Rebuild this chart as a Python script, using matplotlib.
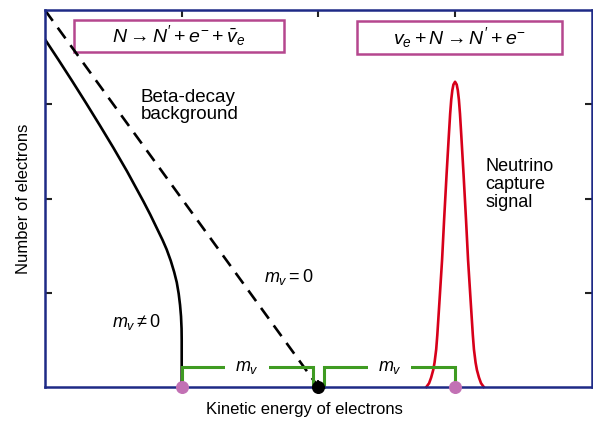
import matplotlib
matplotlib.use("Agg")
import matplotlib.pyplot as plt
from matplotlib.patches import Rectangle

plt.rcParams["font.family"] = "Liberation Sans"
plt.rcParams["mathtext.fontset"] = "custom"
plt.rcParams["mathtext.rm"] = "Liberation Sans"
plt.rcParams["mathtext.it"] = "Liberation Sans:italic"

# beta-decay spectrum, massive neutrino (solid)
solid_x = [0.0, 0.1, 0.2, 0.3, 0.4, 0.5, 0.6, 0.66, 0.72, 0.77, 0.82, 0.86, 0.89,
           0.92, 0.945, 0.964, 0.978, 0.988, 0.995, 0.999, 1.0, 1.0]
solid_y = [3.69, 3.47, 3.245, 3.015, 2.78, 2.54, 2.29, 2.13, 1.97, 1.83, 1.68, 1.56,
           1.46, 1.34, 1.22, 1.11, 0.99, 0.87, 0.75, 0.62, 0.50, 0.0]

# beta-decay spectrum, massless neutrino (dashed)
dash_x = [0.0, 2.0]
dash_y = [4.0, 0.0]

# neutrino capture peak: heights and half-widths
peak_center = 3.0
peak_y = [0.0, 0.04, 0.10, 0.18, 0.26, 0.40, 0.55, 0.89, 1.35, 1.78, 2.26, 2.66,
          2.90, 3.05, 3.15, 3.21, 3.24]
peak_hw = [0.21, 0.19, 0.175, 0.16, 0.15, 0.138, 0.13, 0.115, 0.095, 0.08, 0.062,
           0.046, 0.036, 0.028, 0.020, 0.012, 0.0]

# m_v brackets
bracket_left = [1.0, 1.96]
bracket_right = [2.04, 3.0]
bracket_h = 0.21

# endpoint markers
pink_pts = [1.0, 3.0]
black_pts = [2.0]

NAVY = "#1e2a86"
GREEN = "#3f9b22"
RED = "#d7001a"
PINK = "#c271b4"
BOX = "#b5478e"

fig = plt.figure(figsize=(5.93, 4.21), dpi=100)
ax = fig.add_axes([0.0759, 0.0808, 0.922, 0.895])

ax.plot(solid_x, solid_y, color="black", lw=1.9, solid_capstyle="butt")
ax.plot(dash_x, dash_y, color="black", lw=1.9, linestyle=(0, (5, 3.2)))

px = [peak_center - h for h in peak_hw] + [peak_center + h for h in peak_hw[::-1]]
py = peak_y + peak_y[::-1]
ax.plot(px, py, color=RED, lw=1.9, solid_joinstyle="round", clip_on=False)

for x0, x1 in (bracket_left, bracket_right):
    ax.plot([x0, x0, x1, x1], [0, bracket_h, bracket_h, 0], color=GREEN, lw=2.2,
            solid_joinstyle="miter", clip_on=False)
    ax.text((x0 + x1) / 2, bracket_h, r"$m_v$", ha="center", va="center", fontsize=13,
            bbox=dict(boxstyle="square,pad=0.55", fc="white", ec="none"))

ax.scatter(pink_pts, [0] * len(pink_pts), s=70, color=PINK, zorder=5, clip_on=False)
ax.scatter(black_pts, [0] * len(black_pts), s=70, color="black", zorder=5, clip_on=False)

# reaction boxes
ax.add_patch(Rectangle((0.21, 3.56), 1.535, 0.34, fill=False, ec=BOX, lw=1.8))
ax.text(0.98, 3.73, r"$N \rightarrow N' + e^{-} + \bar{v}_e$", ha="center", va="center",
        fontsize=14)
ax.add_patch(Rectangle((2.285, 3.54), 1.495, 0.34, fill=False, ec=BOX, lw=1.8))
ax.text(3.03, 3.71, r"$v_e + N \rightarrow N' + e^{-}$", ha="center", va="center",
        fontsize=14)

ax.text(0.70, 2.98, "Beta-decay\nbackground", ha="left", va="center", fontsize=13.5,
        linespacing=1.0)
ax.text(3.22, 2.15, "Neutrino\ncapture\nsignal", ha="left", va="center", fontsize=13,
        linespacing=1.05)
ax.text(1.6, 1.17, r"$m_v = 0$", ha="left", va="center", fontsize=13)
ax.text(0.67, 0.69, r"$m_v \neq 0$", ha="center", va="center", fontsize=13)

ax.set_xlim(0, 4)
ax.set_ylim(0, 4)
ax.set_xticks([1, 2, 3])
ax.set_yticks([1, 2, 3])
ax.tick_params(direction="in", length=5, width=1.5, color="#222222",
               top=True, right=True, labelbottom=False, labelleft=False)
for sp in ax.spines.values():
    sp.set_color(NAVY)
    sp.set_linewidth(1.8)

ax.set_xlabel("Kinetic energy of electrons", fontsize=12)
ax.xaxis.set_label_coords(0.475, -0.04, transform=ax.transAxes)
ax.xaxis.label.set_va("top")
ax.set_ylabel("Number of electrons", fontsize=12, labelpad=10)

fig.savefig("out.png", dpi=100)
